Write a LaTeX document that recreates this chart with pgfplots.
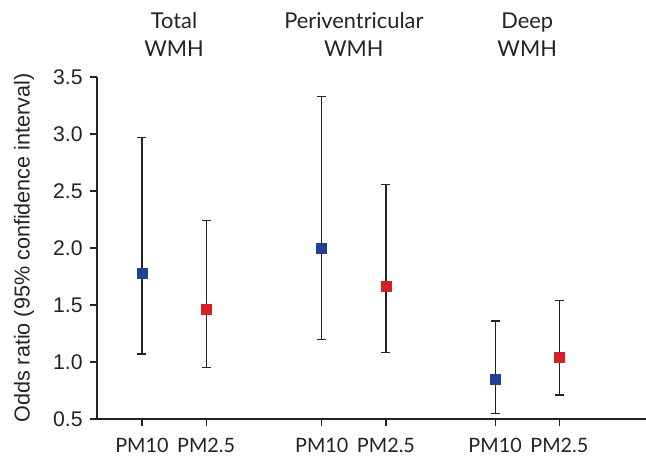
\documentclass[border=0pt]{standalone}
\usepackage{pgfplots}
\pgfplotsset{compat=1.18}
\usepackage{fontspec}
\setmainfont{Liberation Sans}
\newfontfamily\headfont{Lato}
\definecolor{pmblue}{RGB}{33,64,154}
\definecolor{pmred}{RGB}{213,32,39}
\definecolor{txt}{RGB}{35,35,35}

% x, odds ratio, upper CI minus OR, OR minus lower CI
\pgfplotstableread{
x    y     ep    em
0    1.78  1.19  0.71
2.8  2.00  1.33  0.80
5.5  0.85  0.51  0.30
}\pmten
\pgfplotstableread{
x    y     ep    em
1    1.46  0.78  0.51
3.8  1.66  0.90  0.58
6.5  1.04  0.50  0.33
}\pmtwofive

\begin{document}
\begin{tikzpicture}
\begin{axis}[
    width=274.5pt, height=171pt,
    scale only axis,
    clip=false,
    xmin=-0.7, xmax=7.85,
    ymin=0.5, ymax=3.5,
    axis lines=left,
    axis line style={-, line width=0.6pt, txt},
    ytick={0.5,1,...,3.5},
    xtick={0,1,2.8,3.8,5.5,6.5},
    xticklabels={PM10,PM2.5,PM10,PM2.5,PM10,PM2.5},
    tick align=outside,
    major tick length=3.5pt,
    tick style={line width=0.6pt, txt},
    /pgf/number format/fixed,
    /pgf/number format/fixed zerofill,
    /pgf/number format/precision=1,
    /pgf/number format/assume math mode=true,
    yticklabel style={font=\fontsize{10.6}{12}\selectfont, txt, inner sep=3.5pt},
    xticklabel style={font=\headfont\fontsize{9.9}{11}\selectfont, txt,
        anchor=base, inner sep=0pt, yshift=-13.2pt},
    ylabel={Odds ratio (95\% confidence interval)},
    ylabel style={font=\fontsize{10.8}{12}\selectfont, txt,
        at={([xshift=-36.5pt]axis description cs:0,0.5)}, anchor=center},
    error bars/error bar style={line width=0.6pt, txt},
    error bars/error mark options={rotate=90, mark size=2.25pt, line width=0.6pt, txt},
]
\addplot[only marks, mark=square*, mark size=2.5pt, color=pmblue,
    error bars/.cd, y dir=both, y explicit]
    table[x=x, y=y, y error plus=ep, y error minus=em] {\pmten};
\addplot[only marks, mark=square*, mark size=2.5pt, color=pmred,
    error bars/.cd, y dir=both, y explicit]
    table[x=x, y=y, y error plus=ep, y error minus=em] {\pmtwofive};

\tikzset{hd/.style={anchor=base, txt, inner sep=0pt,
    font=\headfont\fontsize{10.9}{12}\selectfont}}
\node[hd, yshift=24.35pt] at (axis cs:0.5,3.5) {Total};
\node[hd, yshift=10.5pt]  at (axis cs:0.5,3.5) {WMH};
\node[hd, yshift=24.35pt] at (axis cs:3.3,3.5) {Periventricular};
\node[hd, yshift=10.5pt]  at (axis cs:3.3,3.5) {WMH};
\node[hd, yshift=24.35pt] at (axis cs:6,3.5) {Deep};
\node[hd, yshift=10.5pt]  at (axis cs:6,3.5) {WMH};

\coordinate (bl) at (rel axis cs:0,0);
\coordinate (tr) at (rel axis cs:1,1);
\end{axis}
\pgfresetboundingbox
\path ([xshift=-48.5pt, yshift=-18.5pt]bl) rectangle ([yshift=38.5pt]tr);
\end{tikzpicture}
\end{document}
